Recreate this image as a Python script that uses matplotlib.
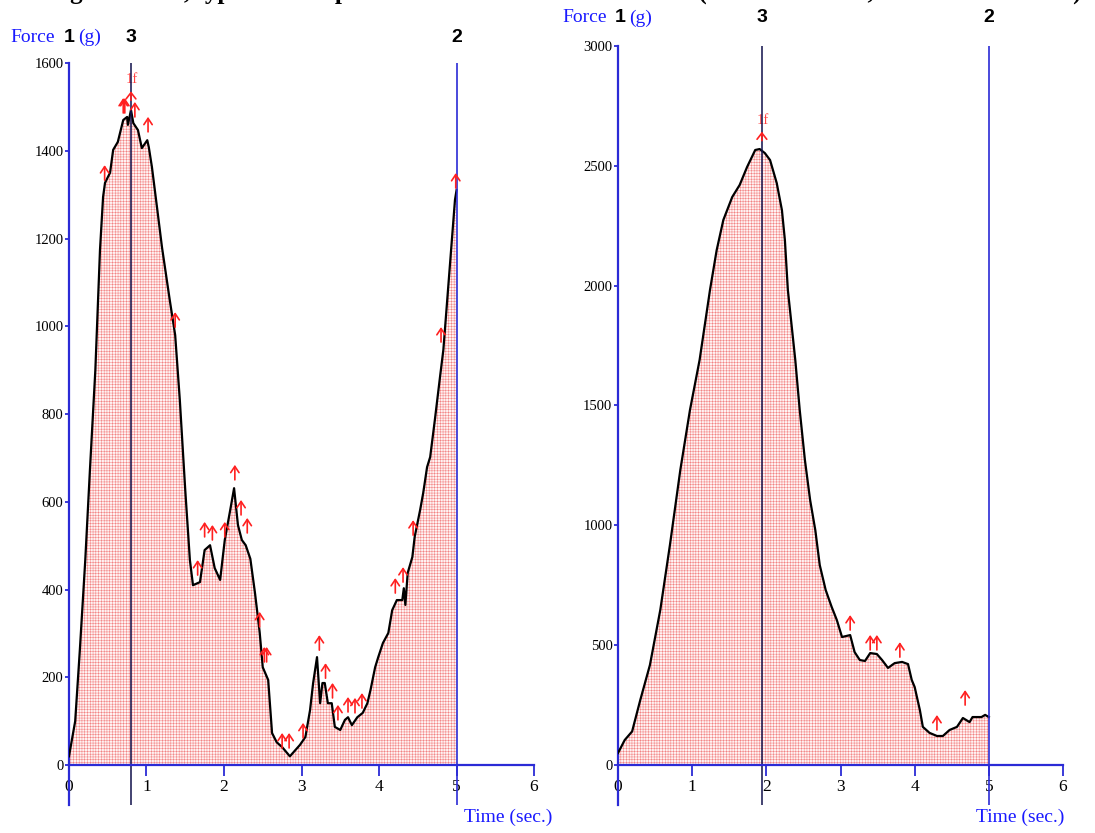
import matplotlib
matplotlib.use("Agg")
import matplotlib.pyplot as plt
from matplotlib.transforms import offset_copy

plt.rcParams['font.family'] = ['Liberation Serif', 'DejaVu Serif']
plt.rcParams['hatch.linewidth'] = 0.35

# left test: force (g) against time (s)
t_left = [0.00, 0.08, 0.14, 0.21, 0.27, 0.34, 0.40, 0.44, 0.465, 0.53, 0.57, 0.63,
          0.70, 0.75, 0.76, 0.80, 0.83, 0.89, 0.94, 1.01, 1.03, 1.07, 1.14, 1.20,
          1.30, 1.37, 1.43, 1.50, 1.56, 1.60, 1.69, 1.75, 1.82, 1.88, 1.95, 2.01,
          2.08, 2.13, 2.18, 2.23, 2.28, 2.34, 2.40, 2.46, 2.50, 2.57, 2.62, 2.68,
          2.75, 2.85, 2.98, 3.05, 3.11, 3.15, 3.20, 3.24, 3.27, 3.30, 3.34, 3.39,
          3.43, 3.50, 3.56, 3.60, 3.65, 3.72, 3.79, 3.85, 3.89, 3.95, 3.99, 4.05,
          4.12, 4.17, 4.23, 4.30, 4.32, 4.34, 4.37, 4.43, 4.46, 4.53, 4.57, 4.62,
          4.66, 4.72, 4.79, 4.83, 4.88, 4.93, 4.98, 5.00]
f_left = [20, 100, 262, 467, 672, 900, 1174, 1295, 1327, 1350, 1402, 1420,
          1470, 1477, 1459, 1493, 1463, 1447, 1406, 1424, 1408, 1363, 1265, 1180,
          1060, 980, 832, 627, 467, 410, 417, 490, 501, 449, 422, 513,
          581, 631, 547, 513, 501, 470, 392, 303, 223, 194, 73, 52,
          41, 20, 46, 64, 125, 187, 246, 141, 187, 187, 141, 141,
          87, 80, 103, 109, 91, 109, 119, 141, 171, 223, 246, 278,
          301, 353, 376, 376, 403, 365, 438, 474, 520, 581, 620, 679,
          702, 786, 889, 946, 1060, 1174, 1288, 1310]

# right test
t_right = [0.00, 0.09, 0.19, 0.30, 0.43, 0.57, 0.70, 0.84, 0.97, 1.10, 1.24, 1.33,
           1.42, 1.54, 1.64, 1.74, 1.85, 1.91, 1.98, 2.05, 2.14, 2.21, 2.25, 2.29,
           2.39, 2.45, 2.52, 2.59, 2.66, 2.72, 2.80, 2.88, 2.95, 3.02, 3.13, 3.19,
           3.26, 3.33, 3.40, 3.49, 3.56, 3.64, 3.73, 3.83, 3.91, 3.96, 4.00, 4.07,
           4.11, 4.20, 4.30, 4.38, 4.47, 4.57, 4.65, 4.74, 4.78, 4.90, 4.95, 5.00]
f_right = [50, 104, 140, 271, 417, 647, 918, 1231, 1481, 1690, 1982, 2148,
           2274, 2370, 2420, 2495, 2566, 2570, 2553, 2524, 2428, 2315, 2190, 1982,
           1690, 1481, 1272, 1106, 980, 834, 730, 660, 605, 534, 542, 471,
           438, 434, 467, 463, 438, 405, 425, 430, 421, 355, 325, 229,
           159, 134, 121, 121, 146, 159, 196, 179, 200, 200, 209, 200]

# event arrows (time, force at arrow foot)
ev_left_t = [0.46, 0.70, 0.72, 0.85, 1.02, 1.37, 1.66, 1.75, 1.85, 2.01, 2.14, 2.22,
             2.30, 2.46, 2.52, 2.55, 2.75, 2.84, 3.02, 3.23, 3.31, 3.40, 3.47, 3.60,
             3.69, 3.78, 4.21, 4.31, 4.44, 4.80, 4.99]
ev_left_f = [1333, 1486, 1486, 1477, 1443, 998, 433, 520, 513, 520, 650, 570,
             529, 315, 235, 235, 39, 39, 62, 262, 198, 153, 103, 121,
             119, 130, 392, 417, 524, 964, 1315]
ev_right_t = [3.13, 3.40, 3.49, 3.80, 4.30, 4.68]
ev_right_f = [563, 480, 480, 450, 146, 250]

# first-fracture marks and anchors
ff_left = (0.80, 1515)
ff_right = (1.94, 2605)
anchor_left = 0.80
anchor_right = 1.94
end_time = 5.0

left_ticks_y = [0, 200, 400, 600, 800, 1000, 1200, 1400, 1600]
right_ticks_y = [0, 500, 1000, 1500, 2000, 2500, 3000]
ticks_x = [0, 1, 2, 3, 4, 5, 6]

BLUE = '#2b2bd6'
NAVY = '#10104a'
LBLUE = '#1a1aff'
RED = '#ff2020'
BOLD = ['Liberation Sans Narrow', 'Liberation Sans', 'DejaVu Sans']

fig = plt.figure(figsize=(10.95, 8.33), dpi=100)
ax1 = fig.add_axes([0.0630, 0.0336, 0.4247, 0.8908])
ax2 = fig.add_axes([0.5644, 0.0336, 0.4064, 0.9112])


def draw_panel(ax, t, f, ymax, ymin, yticks, ev_t, ev_f, ff, anchor):
    ax.set_xlim(0, 6)
    ax.set_ylim(ymin, ymax)
    ax.fill_between(t, 0, f, facecolor='#fff2f2', edgecolor='#f28080',
                    hatch='++++++', linewidth=0, zorder=1)
    ax.plot(t, f, color='black', lw=1.6, zorder=3)
    ax.axvline(anchor, color=NAVY, lw=1.1, zorder=4)
    ax.axvline(end_time, color=BLUE, lw=1.2, zorder=4)

    for s in ['top', 'right']:
        ax.spines[s].set_visible(False)
    ax.spines['left'].set_color(BLUE)
    ax.spines['left'].set_linewidth(1.6)
    ax.spines['bottom'].set_position(('data', 0))
    ax.spines['bottom'].set_color(BLUE)
    ax.spines['bottom'].set_linewidth(1.6)
    ax.spines['bottom'].set_zorder(5)

    ax.set_xticks(ticks_x)
    ax.set_yticks(yticks)
    ax.tick_params(axis='x', direction='out', length=8, width=1.3, color=BLUE,
                   labelsize=12.5, pad=2)
    ax.tick_params(axis='y', direction='out', length=3, width=1.3, color=BLUE,
                   labelsize=10.5, pad=1)

    # arrows: foot on the trace, 15 px long
    up = offset_copy(ax.transData, fig=fig, x=0, y=15, units='dots')
    for x, y in zip(ev_t, ev_f):
        ax.annotate('', xy=(x, y), xycoords=up, xytext=(0, -15),
                    textcoords='offset pixels', zorder=6,
                    arrowprops=dict(arrowstyle='->,head_length=0.45,head_width=0.3',
                                    color=RED, lw=1.2, shrinkA=0, shrinkB=0))
    up2 = offset_copy(ax.transData, fig=fig, x=0, y=9, units='dots')
    ax.annotate('', xy=ff, xycoords=up2, xytext=(0, -9),
                textcoords='offset pixels', zorder=6,
                arrowprops=dict(arrowstyle='->,head_length=0.45,head_width=0.35',
                                color=RED, lw=1.2, shrinkA=0, shrinkB=0))
    ax.annotate('1f', xy=ff, xytext=(1, 14), textcoords='offset pixels',
                ha='center', va='bottom', color='#ff4040', fontsize=10.5)


draw_panel(ax1, t_left, f_left, 1600, -91, left_ticks_y, ev_left_t, ev_left_f,
           ff_left, anchor_left)
draw_panel(ax2, t_right, f_right, 3000, -167, right_ticks_y, ev_right_t, ev_right_f,
           ff_right, anchor_right)


def header(top_px, x_force, x_one, x_g):
    y = 1 - top_px / 833
    fig.text(x_force / 1095, y, 'Force', color=LBLUE, fontsize=14, va='center')
    fig.text(x_one / 1095, y, '1', color='black', fontsize=14, va='center',
             family=BOLD, weight='bold')
    fig.text(x_g / 1095, y, '(g)', color=LBLUE, fontsize=14, va='center')


header(37, 10, 64, 78)
header(18, 562, 615, 629)

for ax, xa, yp in [(ax1, anchor_left, 37), (ax2, anchor_right, 18)]:
    for xv, lab in [(xa, '3'), (end_time, '2')]:
        px = ax.transData.transform((xv, 0))[0]
        fig.text(px / 1095, 1 - yp / 833, lab, ha='center', va='center',
                 fontsize=14, family=BOLD, weight='bold')

fig.text(464 / 1095, 1 - 817 / 833, 'Time (sec.)', color=LBLUE, fontsize=14,
         va='center')
fig.text(976 / 1095, 1 - 817 / 833, 'Time (sec.)', color=LBLUE, fontsize=14,
         va='center')

# figure caption sits above the page edge, only its lower part shows
fig.text(0.005, 1 + 1.5 / 833, 'Among the trials, typical force profiles of the control and '
         'treated (A: raw noodles, B: cooked noodles)', fontsize=18,
         weight='bold', va='baseline')

fig.savefig('out.png', dpi=100)
